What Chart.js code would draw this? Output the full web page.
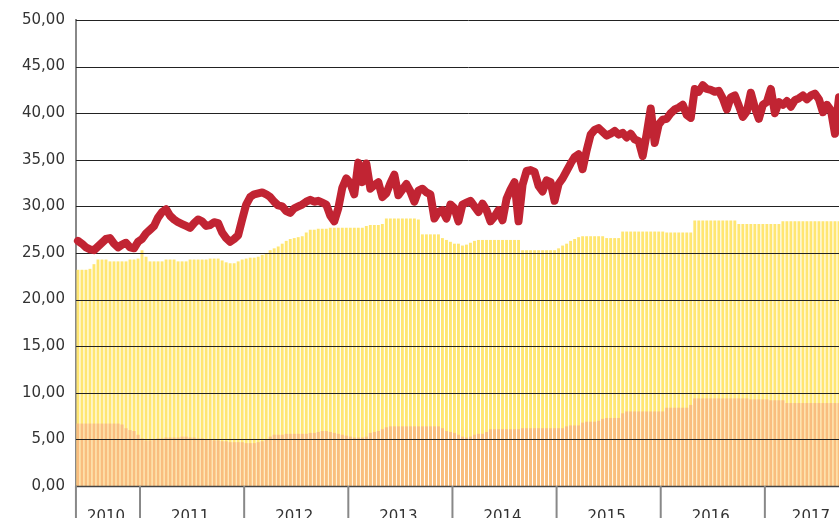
<!DOCTYPE html>
<html>
<head>
<meta charset="utf-8">
<script src="https://cdn.jsdelivr.net/npm/chart.js@4.4.1/dist/chart.umd.min.js"></script>
<style>
  html, body { margin: 0; padding: 0; background: #fff; overflow: hidden; }
</style>
</head>
<body>
<canvas id="grafica" width="881" height="558"></canvas>
<script>
// años y número de periodos (quincenas) de cada año
const years = ['2010', '2011', '2012', '2013', '2014', '2015', '2016', '2017'];
const pointsPerYear = [16, 26, 26, 26, 26, 26, 26, 24];

// valor de cotización (línea roja)
const price = [
  26.3, 26.0, 25.6, 25.4, 25.3, 25.7, 26.1, 26.5, 26.6, 26.0, 25.6, 25.9, 26.1, 25.6, 25.5, 26.2,
  26.5, 27.1, 27.5, 27.9, 28.8, 29.4, 29.7, 29.0, 28.6, 28.3, 28.1, 27.9, 27.7, 28.2, 28.6, 28.4,
  27.9, 28.0, 28.3, 28.2, 27.2, 26.6, 26.2, 26.5, 26.9, 28.6,
  30.2, 31.0, 31.3, 31.4, 31.5, 31.3, 31.0, 30.5, 30.1, 30.0, 29.5, 29.3, 29.8, 30.0, 30.2, 30.5,
  30.7, 30.5, 30.6, 30.4, 30.2, 29.0, 28.4, 29.8, 32.0, 33.0,
  32.5, 31.3, 34.7, 32.6, 34.6, 31.9, 32.3, 32.6, 31.0, 31.4, 32.5, 33.4, 31.2, 31.8, 32.4, 31.6,
  30.5, 31.7, 31.9, 31.5, 31.3, 28.7, 29.4, 29.6, 28.7, 30.2,
  29.8, 28.4, 30.2, 30.4, 30.6, 30.0, 29.4, 30.3, 29.6, 28.4, 28.9, 29.6, 28.5, 30.8, 31.8, 32.6,
  28.4, 32.3, 33.8, 33.9, 33.7, 32.2, 31.6, 32.8, 32.6, 30.6,
  32.4, 33.0, 33.8, 34.6, 35.3, 35.6, 34.0, 36.0, 37.7, 38.2, 38.4, 38.0, 37.6, 37.8, 38.1, 37.7,
  37.9, 37.4, 37.8, 37.2, 37.0, 35.4, 37.8, 40.5, 36.8, 38.8,
  39.3, 39.4, 40.0, 40.4, 40.6, 40.9, 39.8, 39.5, 42.6, 42.3, 43.0, 42.6, 42.5, 42.3, 42.4, 41.6,
  40.4, 41.7, 41.9, 40.8, 39.6, 40.2, 42.2, 40.6, 39.4, 40.9,
  41.2, 42.6, 40.0, 41.2, 40.9, 41.3, 40.7, 41.4, 41.6, 41.9, 41.5, 41.9, 42.1, 41.5, 40.1, 40.9,
  40.3, 37.8, 41.7, 41.5, 41.3, 41.6, 41.2, 41.4
];

// parte inferior de las barras (naranja)
const lowerBand = [
  6.7, 6.7, 6.7, 6.7, 6.7, 6.7, 6.7, 6.7, 6.7, 6.7, 6.7, 6.6, 6.2, 6.0, 5.9, 5.5, 5.1,
  4.9, 4.9, 5.0, 5.1, 5.1, 5.2, 5.2, 5.2, 5.2, 5.3, 5.3, 5.2, 5.2, 5.1, 5.1, 5.0, 5.0, 4.9, 4.9,
  4.8, 4.8, 4.7, 4.7, 4.7, 4.7, 4.6, 4.6, 4.6, 4.7, 4.8, 5.0, 5.3, 5.5, 5.5, 5.5, 5.6, 5.6, 5.6,
  5.6, 5.6, 5.6, 5.7, 5.7, 5.8, 5.9, 5.9, 5.8, 5.7, 5.6, 5.5, 5.4, 5.3, 5.2, 5.2, 5.2, 5.3, 5.7,
  5.8, 5.9, 6.1, 6.3,
  6.4, 6.4, 6.4, 6.4, 6.4, 6.4, 6.4, 6.4, 6.4, 6.4, 6.4, 6.4, 6.4,
  6.2, 5.9, 5.8, 5.7, 5.5, 5.3, 5.2, 5.3, 5.5, 5.6, 5.6, 5.8, 6.1,
  6.1, 6.1, 6.1, 6.1, 6.1, 6.1, 6.1,
  6.2, 6.2, 6.2, 6.2, 6.2, 6.2, 6.2, 6.2, 6.2, 6.2, 6.2,
  6.4, 6.5, 6.5, 6.5, 6.8, 6.9, 6.9, 6.9, 7.0, 7.2, 7.3, 7.3, 7.3, 7.3, 7.8,
  8.0, 8.0, 8.0, 8.0, 8.0, 8.0, 8.0, 8.0, 8.0, 8.0, 8.4, 8.4, 8.4, 8.4, 8.4, 8.4, 8.7,
  9.4, 9.4, 9.4, 9.4, 9.4, 9.4, 9.4, 9.4, 9.4, 9.4, 9.4, 9.4, 9.4, 9.4,
  9.3, 9.3, 9.3, 9.3, 9.3, 9.2, 9.2, 9.2, 9.2,
  8.9, 8.9, 8.9, 8.9, 8.9, 8.9, 8.9, 8.9, 8.9, 8.9, 8.9, 8.9, 8.9, 8.9, 8.9, 8.9, 8.9, 8.9, 8.9
];

// altura total de las barras (borde superior amarillo)
const totalBand = [
  23.2, 23.2, 23.2, 23.3, 23.8, 24.3, 24.3, 24.3, 24.1, 24.1, 24.1, 24.1, 24.1, 24.3, 24.3, 24.4,
  25.3, 24.6, 24.1, 24.1, 24.1, 24.1, 24.3, 24.3, 24.3, 24.1, 24.1, 24.1, 24.3, 24.3, 24.3, 24.3,
  24.3, 24.4, 24.4, 24.4,
  24.2, 24.0, 23.9, 23.9, 24.1, 24.3, 24.4, 24.5, 24.5, 24.6, 24.8, 25.0, 25.3, 25.5,
  25.7, 26.0, 26.3, 26.5, 26.6, 26.7, 26.8, 27.2, 27.5, 27.5, 27.6, 27.6, 27.6,
  27.7, 27.7, 27.7, 27.7, 27.7, 27.7, 27.7, 27.7, 27.7, 27.9, 28.0, 28.0, 28.0, 28.1,
  28.7, 28.7, 28.7, 28.7, 28.7, 28.7, 28.7, 28.7, 28.6, 27.0, 27.0, 27.0, 27.0, 27.0,
  26.6, 26.4, 26.2, 26.0, 26.0, 25.8, 25.9, 26.1, 26.3,
  26.4, 26.4, 26.4, 26.4, 26.4, 26.4, 26.4, 26.4, 26.4, 26.4, 26.4,
  25.3, 25.3, 25.3, 25.3, 25.3, 25.3, 25.3, 25.3, 25.3, 25.5, 25.8, 26.0, 26.3, 26.5, 26.7,
  26.8, 26.8, 26.8, 26.8, 26.8, 26.8, 26.6, 26.6, 26.6, 26.6,
  27.3, 27.3, 27.3, 27.3, 27.3, 27.3, 27.3, 27.3, 27.3, 27.3, 27.3,
  27.2, 27.2, 27.2, 27.2, 27.2, 27.2, 27.2,
  28.5, 28.5, 28.5, 28.5, 28.5, 28.5, 28.5, 28.5, 28.5, 28.5, 28.5,
  28.1, 28.1, 28.1, 28.1, 28.1, 28.1, 28.1, 28.1, 28.1, 28.1, 28.1,
  28.4, 28.4, 28.4, 28.4, 28.4, 28.4, 28.4, 28.4, 28.4, 28.4, 28.4, 28.4, 28.4, 28.4, 28.4, 28.4,
  28.4, 28.4, 28.4, 28.4
];

const yTicks = [0, 5, 10, 15, 20, 25, 30, 35, 40, 45, 50];

// etiquetas de categoría: año + periodo, y la etiqueta de año en el centro de cada tramo
const labels = [];
const yearTickAt = {};
const yearStarts = [];
years.forEach((year, k) => {
  yearStarts.push(labels.length);
  yearTickAt[labels.length + Math.floor(pointsPerYear[k] / 2) - 1] = year;
  for (let p = 0; p < pointsPerYear[k]; p++) labels.push(year + '-' + (p + 1));
});

const fmt = v => v.toFixed(2).replace('.', ',');

// rejilla horizontal por encima de las barras y por debajo de la línea, y separadores de año
const rejilla = {
  id: 'rejilla',
  beforeDatasetDraw(chart, args) {
    if (args.meta.type !== 'line') return;
    const { ctx, chartArea, scales: { y } } = chart;
    ctx.save();
    yTicks.forEach(t => {
      const py = Math.round(y.getPixelForValue(t)) + 0.5;
      ctx.strokeStyle = t === 0 ? '#444' : '#222';
      ctx.lineWidth = t === 0 ? 1.5 : 1;
      ctx.beginPath();
      ctx.moveTo(chartArea.left, py);
      ctx.lineTo(chartArea.right, py);
      ctx.stroke();
    });
    ctx.restore();
  },
  afterDraw(chart) {
    const { ctx, chartArea, scales: { x } } = chart;
    ctx.save();
    ctx.strokeStyle = '#888';
    ctx.lineWidth = 2;
    yearStarts.forEach(i => {
      const px = i === 0 ? chartArea.left : (x.getPixelForValue(i - 1) + x.getPixelForValue(i)) / 2;
      ctx.beginPath();
      ctx.moveTo(px, chartArea.bottom);
      ctx.lineTo(px, chart.height);
      ctx.stroke();
    });
    ctx.restore();
  }
};

Chart.defaults.font.family = '"DejaVu Sans", sans-serif';
Chart.defaults.font.size = 15;
Chart.defaults.color = '#333';

new Chart(document.getElementById('grafica'), {
  type: 'bar',
  data: {
    labels: labels,
    datasets: [
      {
        type: 'line',
        data: price,
        borderColor: '#c12433',
        borderWidth: 8,
        pointRadius: 0,
        tension: 0,
        borderJoinStyle: 'round',
        borderCapStyle: 'round',
        order: 0
      },
      {
        data: lowerBand,
        backgroundColor: '#f9bd7f',
        grouped: false,
        barPercentage: 1,
        categoryPercentage: 0.72,
        order: 1
      },
      {
        data: totalBand,
        backgroundColor: '#ffe672',
        grouped: false,
        barPercentage: 1,
        categoryPercentage: 0.72,
        order: 2
      }
    ]
  },
  options: {
    responsive: false,
    animation: false,
    layout: { padding: { left: 11, right: 4, top: 12, bottom: 10 } },
    plugins: { legend: { display: false }, tooltip: { enabled: false } },
    scales: {
      x: {
        grid: { display: false, drawTicks: false },
        border: { display: false },
        ticks: {
          autoSkip: false,
          maxRotation: 0,
          minRotation: 0,
          padding: 22,
          callback: (v, i) => yearTickAt[i] || ''
        }
      },
      y: {
        min: 0,
        max: 50,
        grid: { display: false, drawTicks: false },
        border: { display: true, color: '#888', width: 2 },
        ticks: {
          stepSize: 5,
          padding: 11,
          callback: v => fmt(v)
        }
      }
    }
  },
  plugins: [rejilla]
});
</script>
</body>
</html>
